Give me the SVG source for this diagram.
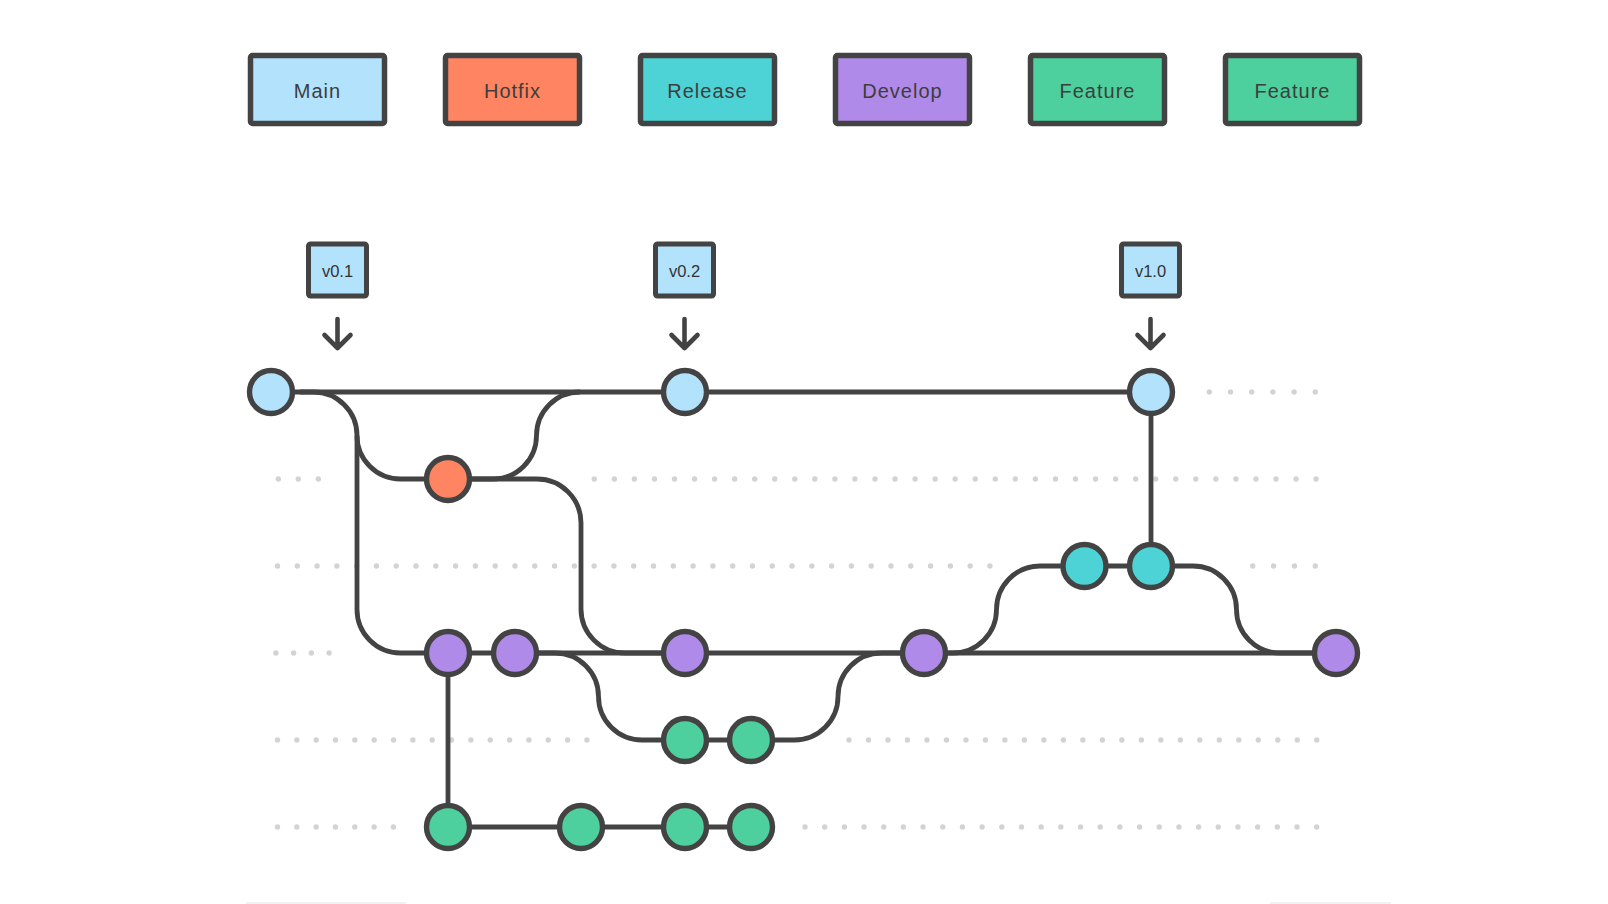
<svg xmlns="http://www.w3.org/2000/svg" width="1608" height="904" viewBox="0 0 1608 904">
<style>
.lg{stroke:#434343;stroke-width:5.5;}
.lt{font-family:"Liberation Sans",Arial,sans-serif;font-size:20px;fill:#3d3d3d;text-anchor:middle;letter-spacing:1px;}
.tt{font-family:"Liberation Sans",Arial,sans-serif;font-size:16.5px;fill:#333;text-anchor:middle;}
.tag{fill:#b3e2fd;stroke:#434343;stroke-width:5;}
.arr{fill:none;stroke:#434343;stroke-width:4.6;stroke-linecap:round;stroke-linejoin:round;}
.c{fill:none;stroke:#434343;stroke-width:4.8;}
.n{stroke:#434343;stroke-width:5.4;}
.dt{fill:none;stroke:#d3d3d3;stroke-width:5.4;stroke-linecap:round;}
.main{fill:#b3e2fd;}
.hot{fill:#ff8562;}
.rel{fill:#4dd3d6;}
.dev{fill:#b08ae8;}
.fea{fill:#4dd09d;}
</style>
<rect width="1608" height="904" fill="#fff"/>
<rect x="246" y="902" width="160" height="2" fill="#f2f2f2"/>
<rect x="1270" y="902" width="121" height="2" fill="#f2f2f2"/>

<g id="legend">
<g id="legend-main"><rect class="lg main" x="250.5" y="55.5" width="134" height="68" rx="2"/><text class="lt" x="317.5" y="97.5">Main</text></g>
<g id="legend-hotfix"><rect class="lg hot" x="445.5" y="55.5" width="134" height="68" rx="2"/><text class="lt" x="512.5" y="97.5">Hotfix</text></g>
<g id="legend-release"><rect class="lg rel" x="640.5" y="55.5" width="134" height="68" rx="2"/><text class="lt" x="707.5" y="97.5">Release</text></g>
<g id="legend-develop"><rect class="lg dev" x="835.5" y="55.5" width="134" height="68" rx="2"/><text class="lt" x="902.5" y="97.5">Develop</text></g>
<g id="legend-feature1"><rect class="lg fea" x="1030.5" y="55.5" width="134" height="68" rx="2"/><text class="lt" x="1097.5" y="97.5">Feature</text></g>
<g id="legend-feature2"><rect class="lg fea" x="1225.5" y="55.5" width="134" height="68" rx="2"/><text class="lt" x="1292.5" y="97.5">Feature</text></g>
</g>

<g id="lanes">
<path class="dt" stroke-dasharray="0 21.2" d="M1209.3 392H1316"/>
<path class="dt" stroke-dasharray="0 20" d="M278.3 479H318.4"/>
<path class="dt" stroke-dasharray="0 20.05" d="M594.3 479H1316.2"/>
<path class="dt" stroke-dasharray="0 19.79" d="M277.5 566H990.1"/>
<path class="dt" stroke-dasharray="0 20.87" d="M1252.7 566H1315.4"/>
<path class="dt" stroke-dasharray="0 17.73" d="M275.9 653H329.2"/>
<path class="dt" stroke-dasharray="0 19.34" d="M277.5 740H587.1"/>
<path class="dt" stroke-dasharray="0 19.49" d="M849 740H1316.8"/>
<path class="dt" stroke-dasharray="0 19.32" d="M277.5 827H393.5"/>
<path class="dt" stroke-dasharray="0 19.68" d="M805 827H1316.8"/>
</g>

<g id="tags">
<g id="tag-v01"><rect class="tag" x="308.5" y="244" width="58" height="52" rx="2"/><text class="tt" x="337.5" y="276.5">v0.1</text><path class="arr" d="M337.5 319V347M324.5 335L337.5 348L350.5 335"/></g>
<g id="tag-v02"><rect class="tag" x="655.5" y="244" width="58" height="52" rx="2"/><text class="tt" x="684.5" y="276.5">v0.2</text><path class="arr" d="M684.5 319V347M671.5 335L684.5 348L697.5 335"/></g>
<g id="tag-v10"><rect class="tag" x="1121.5" y="244" width="58" height="52" rx="2"/><text class="tt" x="1150.5" y="276.5">v1.0</text><path class="arr" d="M1150.5 319V347M1137.5 335L1150.5 348L1163.5 335"/></g>
</g>

<g id="connectors">
<path class="c" d="M271 392H1151"/>
<path class="c" d="M300 392H313.5A43.5 43.5 0 0 1 357 435.5A43.5 43.5 0 0 0 400.5 479H448"/>
<path class="c" d="M357 435.5V609.5A43.5 43.5 0 0 0 400.5 653H448"/>
<path class="c" d="M448 479H493A43.5 43.5 0 0 0 536.5 435.5A43.5 43.5 0 0 1 580 392"/>
<path class="c" d="M448 479H537A44 44 0 0 1 581 523V609A44 44 0 0 0 625 653H685"/>
<path class="c" d="M448 653H1336"/>
<path class="c" d="M515 653H555A43.5 43.5 0 0 1 598.5 696.5A43.5 43.5 0 0 0 642 740H751"/>
<path class="c" d="M751 740H794.5A43.5 43.5 0 0 0 838 696.5A43.5 43.5 0 0 1 881.5 653H924"/>
<path class="c" d="M924 653H953A43.5 43.5 0 0 0 996.5 609.5A43.5 43.5 0 0 1 1040 566H1151"/>
<path class="c" d="M1151 566V392"/>
<path class="c" d="M1151 566H1193A43.5 43.5 0 0 1 1236.5 609.5A43.5 43.5 0 0 0 1280 653H1336"/>
<path class="c" d="M448 653V827H751"/>
</g>

<g id="node-m1"><circle class="n main" cx="271" cy="392" r="21.5"/></g>
<g id="node-m2"><circle class="n main" cx="685" cy="392" r="21.5"/></g>
<g id="node-m3"><circle class="n main" cx="1151" cy="392" r="21.5"/></g>
<g id="node-h1"><circle class="n hot" cx="448" cy="479" r="21.5"/></g>
<g id="node-r1"><circle class="n rel" cx="1084.5" cy="566" r="21.5"/></g>
<g id="node-r2"><circle class="n rel" cx="1151" cy="566" r="21.5"/></g>
<g id="node-d1"><circle class="n dev" cx="448" cy="653" r="21.5"/></g>
<g id="node-d2"><circle class="n dev" cx="515" cy="653" r="21.5"/></g>
<g id="node-d3"><circle class="n dev" cx="685" cy="653" r="21.5"/></g>
<g id="node-d4"><circle class="n dev" cx="924" cy="653" r="21.5"/></g>
<g id="node-d5"><circle class="n dev" cx="1336" cy="653" r="21.5"/></g>
<g id="node-f1a"><circle class="n fea" cx="685" cy="740" r="21.5"/></g>
<g id="node-f1b"><circle class="n fea" cx="751" cy="740" r="21.5"/></g>
<g id="node-f2a"><circle class="n fea" cx="448" cy="827" r="21.5"/></g>
<g id="node-f2b"><circle class="n fea" cx="581" cy="827" r="21.5"/></g>
<g id="node-f2c"><circle class="n fea" cx="685" cy="827" r="21.5"/></g>
<g id="node-f2d"><circle class="n fea" cx="751" cy="827" r="21.5"/></g>
</svg>
